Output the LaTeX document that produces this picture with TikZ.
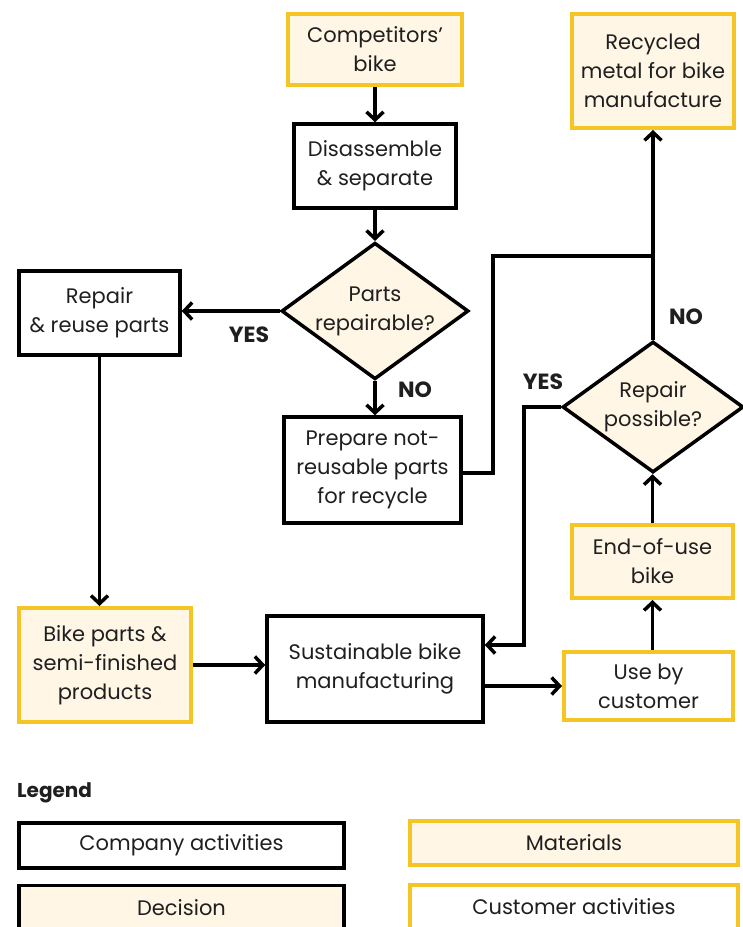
\documentclass[tikz,border=0pt]{standalone}
\usepackage{fontspec}
\setmainfont{Poppins}
\usepackage{xcolor}
\usetikzlibrary{shapes.geometric,arrows.meta}
\definecolor{gold}{HTML}{F5C526}
\definecolor{cream}{HTML}{FFF6E6}

\begin{document}
\begin{tikzpicture}[x=1pt,y=-1pt,
  every node/.style={font=\fontsize{21}{29}\selectfont, align=center, text=black!88, inner sep=0pt},
  act/.style={draw=black, line width=3.5pt, rectangle},
  mat/.style={draw=gold, fill=cream, line width=4pt, rectangle},
  cust/.style={draw=gold, fill=white, line width=4pt, rectangle},
  dec/.style={draw=black, fill=cream, line width=3.5pt, diamond, aspect=1.37},
  lbl/.style={font=\fontsize{22}{24}\selectfont\bfseries},
  arr/.style={-{Straight Barb[length=8pt,width=17pt,line width=3.5pt]}, line width=3.5pt},
  con/.style={line width=3.5pt}]
\useasboundingbox (0,0) rectangle (743,927);
\clip (0,0) rectangle (743,927);

\node[mat, minimum width=174, minimum height=71] (a) at (375,49.5) {Competitors’\\bike};
\node[act, minimum width=162, minimum height=84] (b) at (375,166) {Disassemble\\\& separate};
\node[dec, minimum width=186, minimum height=135] (c) at (375,311) {Parts\\repairable?};
\node[act, minimum width=161, minimum height=84] (d) at (99.5,313) {Repair\\\& reuse parts};
\node[act, minimum width=177, minimum height=106] (e) at (372.5,470) {Prepare not-\\reusable parts\\for recycle};
\node[mat, minimum width=162, minimum height=114] (f) at (653,71) {Recycled\\metal for bike\\manufacture};
\node[dec, minimum width=181, minimum height=131] (g) at (653,407) {Repair\\possible?};
\node[mat, minimum width=161, minimum height=73] (h) at (652.5,561.5) {End-of-use\\bike};
\node[cust, minimum width=169, minimum height=68] (i) at (648.5,686) {Use by\\customer};
\node[act, minimum width=216, minimum height=106] (j) at (375,669) {Sustainable bike\\manufacturing};
\node[mat, minimum width=172, minimum height=114] (k) at (105,665) {Bike parts \&\\semi-finished\\products};

\node[lbl] (y1) at (249,335) {YES};
\node[lbl] (n1) at (415,390) {NO};
\node[lbl] (n2) at (686,317) {NO};
\node[lbl] (y2) at (543,382) {YES};

\coordinate (m) at (653,256);
\draw[arr] (a) -- (b);
\draw[arr] (b) -- (c);
\draw[arr] (c.west) -- (c.west -| d.east);
\draw[arr] (d.south) -- (d.south |- k.north);
\draw[arr] (c.south) -- (c.south |- e.north);
\draw[con] ([yshift=-3pt]e.east) -- ++(30,0) |- (m);
\draw[arr] (g.north) -- (f.south);
\draw[arr] (g.west) -- ++(-37,0) |- ([yshift=24pt]j.east);
\draw[arr] (k.east) -- (k.east -| j.west);
\draw[arr] (i.west -| j.east) -- (i.west);
\draw[arr] (h.south |- i.north) -- (h.south);
\draw[arr] (h.north) -- (h.north |- g.south);

\node[lbl, font=\fontsize{20}{24}\selectfont\bfseries, anchor=west] (lg) at (17,793) {Legend};
\node[act, minimum width=325, minimum height=45] (l1) at (181.5,845.5) {Company activities};
\node[mat, minimum width=328, minimum height=44] (l2) at (574,843) {Materials};
\node[act, fill=cream, minimum width=325, minimum height=45] (l3) at (181.5,908) {Decision};
\node[cust, minimum width=328, minimum height=45] (l4) at (574,907) {Customer activities};
\end{tikzpicture}
\end{document}
